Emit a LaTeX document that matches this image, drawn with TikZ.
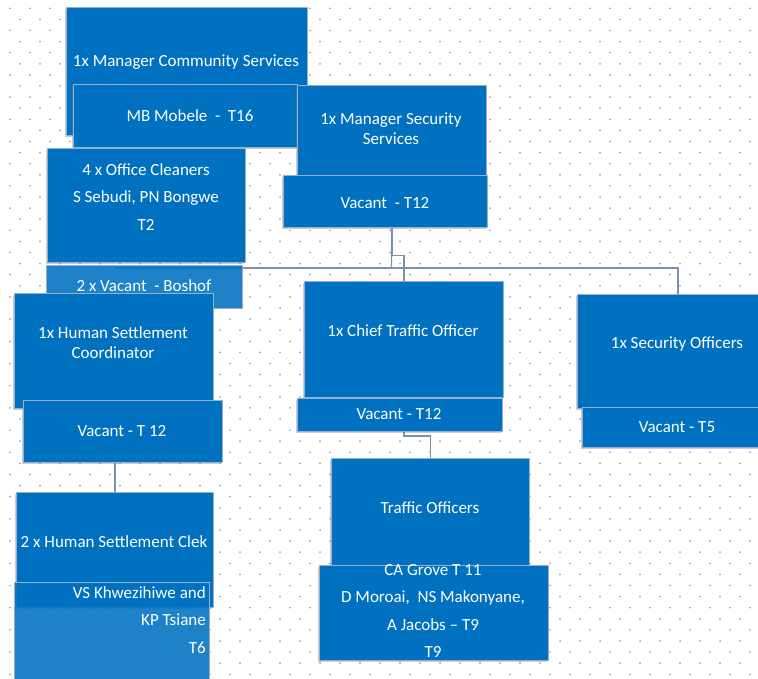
\documentclass[tikz,border=0pt]{standalone}
\usepackage{fontspec}
\setmainfont{Carlito}
\usetikzlibrary{shadows}

\definecolor{unitblue}{RGB}{0,112,192}
\definecolor{edgeblue}{RGB}{150,175,205}
\definecolor{dotblue}{RGB}{140,164,198}
\definecolor{linkgray}{RGB}{125,145,170}

\begin{document}
\begin{tikzpicture}[x=1pt, y=-1pt,
	unit/.style={draw=edgeblue, line width=0.8, fill=unitblue, anchor=north west, inner sep=0,
		drop shadow={shadow xshift=-1.5pt, shadow yshift=-1.5pt, opacity=0.4}},
	faint/.style={draw=edgeblue, line width=0.8, fill=unitblue, fill opacity=0.88, anchor=north west, inner sep=0},
	lbl/.style={text=white, font=\fontsize{17}{20}\selectfont, align=center, inner sep=0},
	lblwide/.style={lbl, font=\fontsize{17}{27.5}\selectfont},
	link/.style={draw=linkgray, line width=1.4}]
	\useasboundingbox (0,0) rectangle (758,679);
	% dotted page grid
	\foreach \r in {0,...,61} {
		\pgfmathsetmacro{\xoff}{mod(\r,2)*10}
		\foreach \c in {0,...,38}
			\fill[dotblue] (\xoff+10+\c*20, 8.3+\r*11.1) circle (1);
	}
	% boxes, back to front
	\node[unit, minimum width=241, minimum height=128] (mcs) at (66,7) {};
	\node[unit, minimum width=224, minimum height=63] (mbm) at (73,84) {};
	\node[unit, minimum width=189, minimum height=90] (mss) at (297,85) {};
	\node[unit, minimum width=198, minimum height=114] (ocl) at (47,148) {};
	\node[unit, minimum width=199, minimum height=116] (cto) at (304,281) {};
	\node[unit, minimum width=201, minimum height=114] (so) at (577,294) {};
	\node[unit, minimum width=197, minimum height=115] (clerk) at (16,492) {};
	\node[unit, minimum width=198, minimum height=107] (tro) at (331,458) {};
	% connectors
	\coordinate (bus) at (391.5,268);
	\draw[link] (mss.south) -- ++(0,80) -| (cto.north);
	\draw[link] (mss.south) -- (bus);
	\draw[link] (clerk.north |- bus) -- (bus) -| (so.north);
	\draw[link] (cto.south) -- ++(0,38) -| (tro.north);
	\draw[link] (clerk.north |- 0,300) -- (clerk.north);
	% front boxes
	\node[unit, minimum width=204, minimum height=52] (vsec) at (283,175) {};
	\node[faint, minimum width=196, minimum height=43] (bsh) at (46,265) {};
	\node[unit, minimum width=199, minimum height=115] (hsc) at (14,293) {};
	\node[unit, minimum width=199, minimum height=62] (vhs) at (23,400) {};
	\node[unit, minimum width=205, minimum height=33] (vcto) at (297,398) {};
	\node[unit, minimum width=201, minimum height=40] (vso) at (582,407) {};
	\node[faint, minimum width=195, minimum height=110] (vsk) at (14,582) {};
	\node[unit, minimum width=229, minimum height=95] (cag) at (319,565) {};
	% texts
	\node[lbl] (mcs-t) at (186,62) {1x Manager Community Services};
	\node[lbl] (mbm-t) at (190,116) {MB Mobele \ - \ T16};
	\node[lbl] (mss-t) at (391,129) {1x Manager Security\\Services};
	\node[lbl] (vsec-t) at (385,203) {Vacant \ - T12};
	\node[lblwide] (ocl-t) at (146,197) {4 x Office Cleaners\\S Sebudi, PN Bongwe\\T2};
	\node[lbl] (bsh-t) at (144,286) {2 x Vacant \ - Boshof};
	\node[lbl] (hsc-t) at (113,343) {1x Human Settlement\\Coordinator};
	\node[lbl] (vhs-t) at (122,431) {Vacant - T 12};
	\node[lbl] (cto-t) at (403,331) {1x Chief Traffic Officer};
	\node[lbl] (vcto-t) at (399,414) {Vacant - T12};
	\node[lbl] (so-t) at (677,344) {1x Security Officers};
	\node[lbl] (vso-t) at (677,427) {Vacant - T5};
	\node[lbl] (clerk-t) at (114,542) {2 x Human Settlement Clek};
	\node[lblwide, align=right, anchor=east] (vsk-t) at (206,620) {VS Khwezihiwe and\\KP Tsiane\\T6};
	\node[lbl] (tro-t) at (430,508) {Traffic Officers};
	\node[lblwide] (cag-t) at (433,611) {CA Grove T 11\\D Moroai, \ NS Makonyane,\\A Jacobs -- T9\\T9};
\end{tikzpicture}
\end{document}
